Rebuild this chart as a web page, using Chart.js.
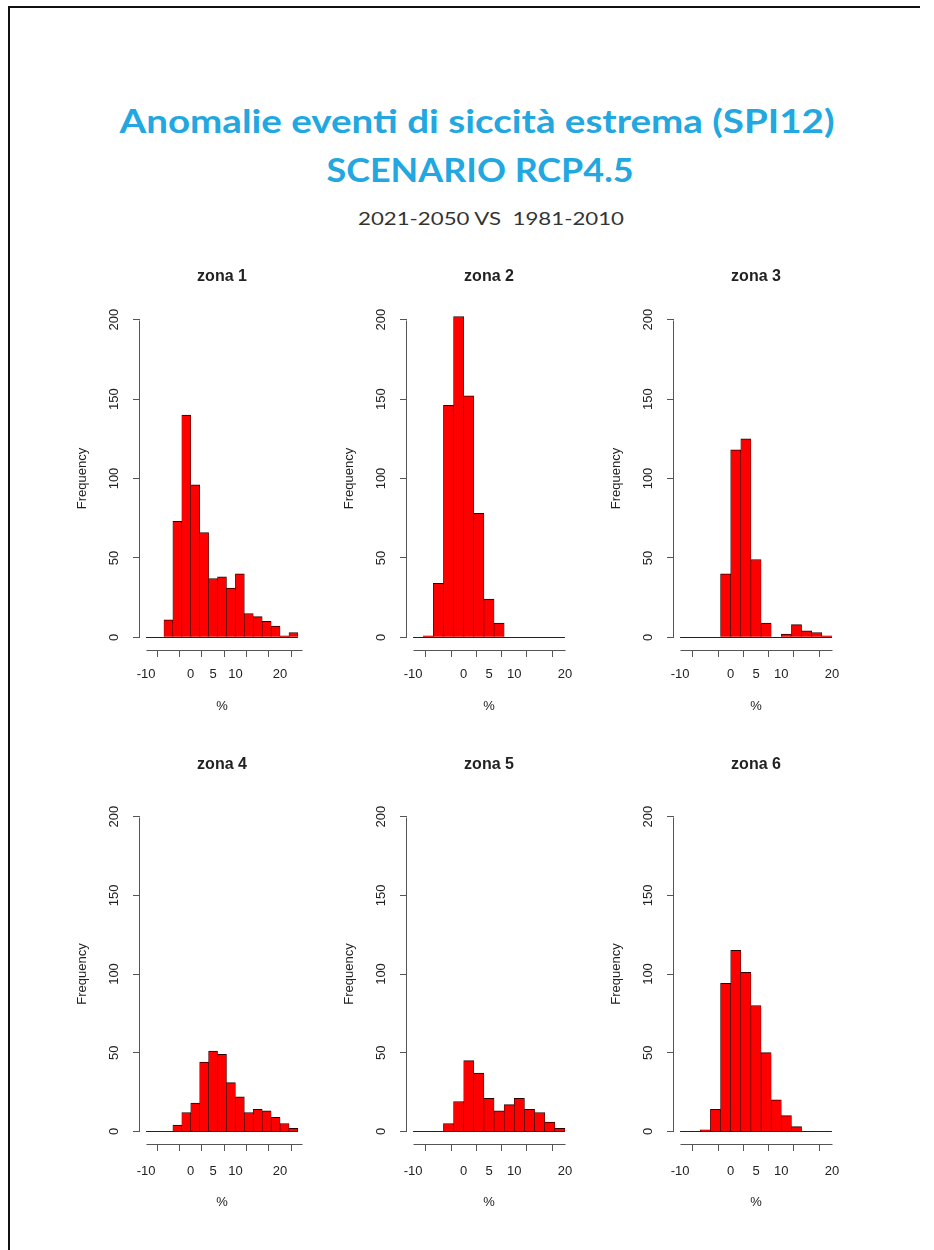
<!DOCTYPE html>
<html>
<head>
<meta charset="utf-8">
<script src="https://cdn.jsdelivr.net/npm/chart.js@4.4.1/dist/chart.umd.min.js"></script>
<style>
html,body{margin:0;padding:0;background:#fff;}
body{width:934px;height:1250px;position:relative;overflow:hidden;}
#frameL{position:absolute;left:8px;top:6px;width:2px;height:1244px;background:#111;}
#frameT{position:absolute;left:8px;top:6px;width:912px;height:2px;background:#111;}
.fit{position:absolute;white-space:pre;line-height:1;transform-origin:50% 50%;}
canvas{position:absolute;}
</style>
</head>
<body>
<div id="frameL"></div>
<div id="frameT"></div>
<div class="fit" data-w="715" data-cx="477" data-cy="120" style="font:700 32px Lato;color:#22a7e0;">Anomalie eventi di siccità estrema (SPI12)</div>
<div class="fit" data-w="307" data-cx="480" data-cy="169" style="font:700 32px Lato;color:#22a7e0;">SCENARIO RCP4.5</div>
<div class="fit" data-w="266" data-cx="491" data-cy="218" style="font:400 18px Lato;color:#333;">2021-2050 VS  1981-2010</div>
<script>
// ---------------- data ----------------
const zoneNames = ['zona 1', 'zona 2', 'zona 3', 'zona 4', 'zona 5', 'zona 6'];
const breaksWide = [-10, -8, -6, -4, -2, 0, 2, 4, 6, 8, 10, 12, 14, 16, 18, 20, 22, 24];
const breaksNarrow = [-10, -8, -6, -4, -2, 0, 2, 4, 6, 8, 10, 12, 14, 16, 18, 20];
const countsZona1 = [0, 0, 11, 73, 140, 96, 66, 37, 38, 31, 40, 15, 13, 10, 7, 1, 3];
const countsZona2 = [0, 1, 34, 146, 202, 152, 78, 24, 9, 0, 0, 0, 0, 0, 0];
const countsZona3 = [0, 0, 0, 0, 40, 118, 125, 49, 9, 0, 2, 8, 4, 3, 1];
const countsZona4 = [0, 0, 0, 4, 12, 18, 44, 51, 49, 31, 22, 12, 14, 13, 9, 5, 2];
const countsZona5 = [0, 0, 0, 5, 19, 45, 37, 21, 13, 17, 21, 14, 12, 6, 2];
const countsZona6 = [0, 0, 1, 14, 94, 115, 101, 80, 50, 20, 10, 3, 0, 0, 0];
const xTicksWide = [-10, -5, 0, 5, 10, 15, 20, 25];
const xTickLabelsWide = ['-10', '', '0', '5', '10', '', '20', ''];
const xTicksNarrow = [-10, -5, 0, 5, 10, 15, 20];
const xTickLabelsNarrow = ['-10', '', '0', '5', '10', '', '20'];
const yTicks = [0, 50, 100, 150, 200];
const yTickLabels = ['0', '50', '100', '150', '200'];
const xAxisTitle = '%';
const yAxisTitle = 'Frequency';

const zones = [
  {name: zoneNames[0], breaks: breaksWide, counts: countsZona1, xt: xTicksWide, xl: xTickLabelsWide},
  {name: zoneNames[1], breaks: breaksNarrow, counts: countsZona2, xt: xTicksNarrow, xl: xTickLabelsNarrow},
  {name: zoneNames[2], breaks: breaksNarrow, counts: countsZona3, xt: xTicksNarrow, xl: xTickLabelsNarrow},
  {name: zoneNames[3], breaks: breaksWide, counts: countsZona4, xt: xTicksWide, xl: xTickLabelsWide},
  {name: zoneNames[4], breaks: breaksNarrow, counts: countsZona5, xt: xTicksNarrow, xl: xTickLabelsNarrow},
  {name: zoneNames[5], breaks: breaksNarrow, counts: countsZona6, xt: xTicksNarrow, xl: xTickLabelsNarrow}
];

// ---------------- header fitting ----------------
document.querySelectorAll('.fit').forEach(el => {
  const r = el.getBoundingClientRect();
  const s = (+el.dataset.w) / r.width;
  el.style.left = (+el.dataset.cx) + 'px';
  el.style.top = (+el.dataset.cy - r.height / 2) + 'px';
  el.style.transform = 'translateX(-50%) scaleX(' + s + ')';
});

// ---------------- layout ----------------
const cols = [140, 407, 674];
const plotW = 164;
const rows = [
  {top: 307, h: 343, titleGap: 30.6, labelGap: 24.6, pctGap: 56.6},
  {top: 804, h: 340, titleGap: 39, labelGap: 27.4, pctGap: 58.7}
];
const ML = 95, MR = 20, MT = 50, MB = 80;
const FS = 13, LH = FS * 1.2;
const axisColor = '#555';
const textColor = '#222';

const rAxes = {
  id: 'rAxes',
  afterDatasetsDraw(chart, args, opts) {
    const x = chart.scales.x, y = chart.scales.y, ctx = chart.ctx;
    const b = opts.breaks;
    ctx.save();
    ctx.strokeStyle = '#222';
    ctx.lineWidth = 1;
    const y0 = Math.round(y.getPixelForValue(0)) + 0.5;
    ctx.beginPath();
    ctx.moveTo(x.getPixelForValue(b[0]), y0);
    ctx.lineTo(x.getPixelForValue(b[b.length - 1]), y0);
    ctx.stroke();
    ctx.restore();
  },
  afterDraw(chart, args, opts) {
    const x = chart.scales.x, y = chart.scales.y, ctx = chart.ctx, a = chart.chartArea;
    ctx.save();
    ctx.strokeStyle = axisColor;
    ctx.lineWidth = 1;
    const xt = opts.xt;
    const yb = Math.round(a.bottom) + 0.5;
    ctx.beginPath();
    ctx.moveTo(Math.round(x.getPixelForValue(xt[0])) + 0.5, yb);
    ctx.lineTo(Math.round(x.getPixelForValue(xt[xt.length - 1])) + 0.5, yb);
    const xl = Math.round(a.left) - 0.5;
    ctx.moveTo(xl, Math.round(y.getPixelForValue(yTicks[0])) + 0.5);
    ctx.lineTo(xl, Math.round(y.getPixelForValue(yTicks[yTicks.length - 1])) + 0.5);
    ctx.stroke();
    ctx.restore();
  }
};

Chart.defaults.font.family = "'Liberation Sans', Arial, sans-serif";

zones.forEach((z, i) => {
  const r = rows[Math.floor(i / 3)];
  const c = cols[i % 3];
  const W = plotW + ML + MR, H = r.h + MT + MB;
  const cv = document.createElement('canvas');
  cv.width = W; cv.height = H;
  cv.style.left = (c - ML) + 'px';
  cv.style.top = (r.top - MT) + 'px';
  cv.style.width = W + 'px';
  cv.style.height = H + 'px';
  document.body.appendChild(cv);

  const b = z.breaks;
  const pts = z.counts.map((v, k) => ({x: (b[k] + b[k + 1]) / 2, y: v}));
  const span = b[b.length - 1] - b[0];
  const xmin = b[0] - 0.04 * span, xmax = b[b.length - 1] + 0.04 * span;

  new Chart(cv, {
    type: 'bar',
    data: {
      datasets: [{
        data: pts,
        backgroundColor: '#ff0000',
        borderColor: '#2a0000',
        borderWidth: {top: 1, left: 0.6, right: 0.6, bottom: 0},
        borderSkipped: false,
        barPercentage: 1,
        categoryPercentage: 1
      }]
    },
    options: {
      responsive: false,
      animation: false,
      layout: {padding: {left: 0, right: MR, top: 0, bottom: 0}},
      plugins: {
        legend: {display: false},
        tooltip: {enabled: false},
        title: {
          display: true, text: z.name, fullSize: false, color: textColor,
          font: {size: 16, weight: 'bold', lineHeight: 1.2},
          padding: {top: MT - r.titleGap - 9.6, bottom: r.titleGap - 9.6}
        },
        rAxes: {breaks: b, xt: z.xt}
      },
      scales: {
        x: {
          type: 'linear', min: xmin, max: xmax, offset: false,
          afterBuildTicks: s => { s.ticks = z.xt.map(v => ({value: v})); },
          afterFit: s => { s.height = MB; },
          grid: {display: true, drawOnChartArea: false, drawTicks: true, tickLength: 7, color: axisColor, lineWidth: 1},
          border: {display: false},
          ticks: {
            autoSkip: false, minRotation: 0, maxRotation: 0, color: textColor,
            padding: r.labelGap - 7 - LH / 2, font: {size: FS},
            callback: (v, k) => z.xl[k]
          },
          title: {display: true, text: xAxisTitle, color: textColor, font: {size: FS},
                  padding: {top: 0, bottom: MB - r.pctGap - LH / 2}}
        },
        y: {
          type: 'linear', min: -8, max: 208,
          afterBuildTicks: s => { s.ticks = yTicks.map(v => ({value: v})); },
          afterFit: s => { s.width = ML; },
          grid: {display: true, drawOnChartArea: false, drawTicks: true, tickLength: 7, color: axisColor, lineWidth: 1},
          border: {display: false},
          ticks: {
            autoSkip: false, minRotation: 90, maxRotation: 90, crossAlign: 'center',
            padding: 8, color: textColor, font: {size: FS},
            callback: (v, k) => yTickLabels[k]
          },
          title: {display: true, text: yAxisTitle, color: textColor, font: {size: FS},
                  padding: {top: ML - 58 - LH / 2, bottom: 0}}
        }
      }
    },
    plugins: [rAxes]
  });
});
</script>
</body>
</html>
